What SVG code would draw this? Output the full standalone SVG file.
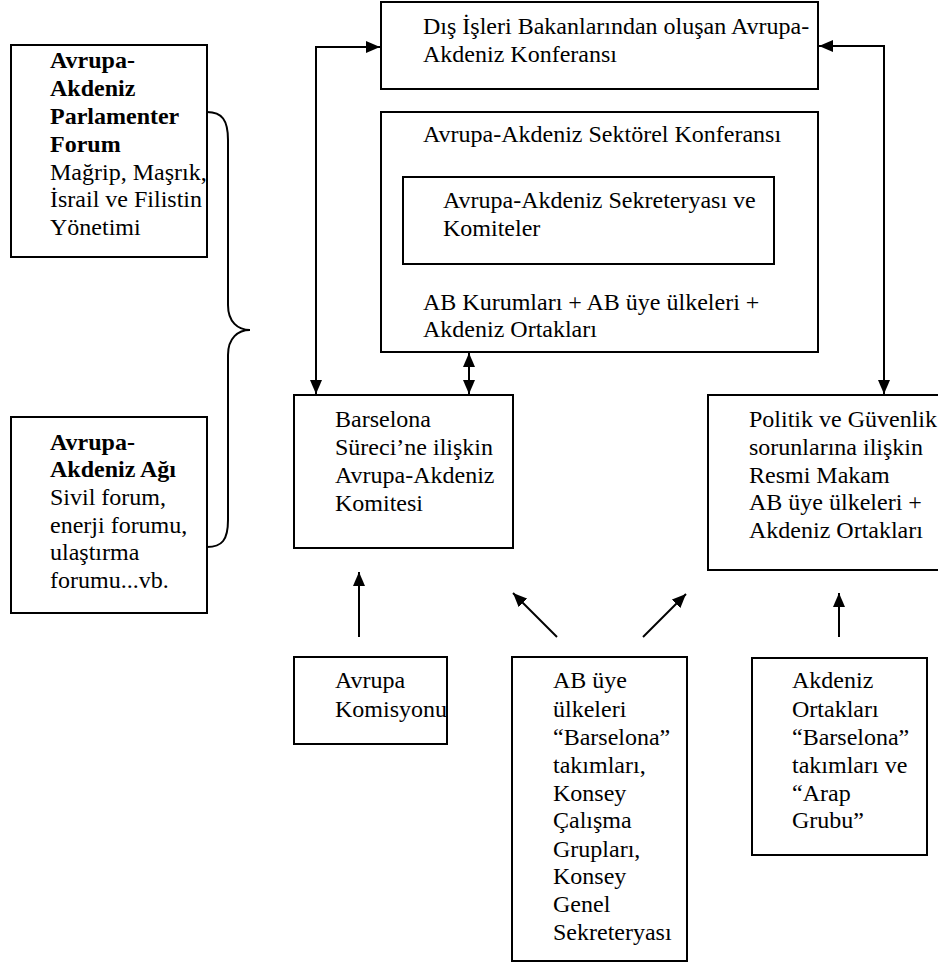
<svg xmlns="http://www.w3.org/2000/svg" width="938" height="965" viewBox="0 0 938 965">
<style>
.box{fill:#fff;stroke:#000;stroke-width:2}
.t{font-family:'Liberation Serif','Times New Roman',serif;font-size:24px;fill:#000}
.b{font-weight:bold}
.c{fill:none;stroke:#000;stroke-width:2}
</style>
<defs>
<marker id="ah" viewBox="0 0 14 12" refX="14" refY="6" markerWidth="14" markerHeight="12" markerUnits="userSpaceOnUse" orient="auto-start-reverse">
<path d="M0,0 L14,6 L0,12 z" fill="#000"/>
</marker>
</defs>
<rect width="938" height="965" fill="#fff"/>

<g id="connectors">
<polyline class="c" points="316,394 316,47 380,47" marker-start="url(#ah)" marker-end="url(#ah)"/>
<polyline class="c" points="884,394 884,46 819,46" marker-start="url(#ah)" marker-end="url(#ah)"/>
<line class="c" x1="469" y1="353" x2="469" y2="394" marker-start="url(#ah)" marker-end="url(#ah)"/>
<line class="c" x1="359" y1="637" x2="359" y2="572" marker-end="url(#ah)"/>
<line class="c" x1="557" y1="637" x2="513" y2="593" marker-end="url(#ah)"/>
<line class="c" x1="643" y1="637" x2="686" y2="594" marker-end="url(#ah)"/>
<line class="c" x1="839" y1="637" x2="839" y2="593" marker-end="url(#ah)"/>
<path class="c" d="M207,112 C222,112 228,120 228,140 L228,305 C228,322 238,330 250,330 C238,330 228,338 228,355 L228,520 C228,540 222,547 207,547"/>
</g>

<g id="n-forum">
<rect class="box" x="11" y="45" width="196" height="212"/>
<text class="t b" x="50" y="68">Avrupa-</text>
<text class="t b" x="50" y="96">Akdeniz</text>
<text class="t b" x="50" y="124">Parlamenter</text>
<text class="t b" x="50" y="152">Forum</text>
<text class="t" x="50" y="180">Mağrip, Maşrık,</text>
<text class="t" x="50" y="207">İsrail ve Filistin</text>
<text class="t" x="50" y="235">Yönetimi</text>
</g>

<g id="n-agi">
<rect class="box" x="11" y="417" width="196" height="196"/>
<text class="t b" x="50" y="450">Avrupa-</text>
<text class="t b" x="50" y="477">Akdeniz Ağı</text>
<text class="t" x="50" y="505">Sivil forum,</text>
<text class="t" x="50" y="533">enerji forumu,</text>
<text class="t" x="50" y="560">ulaştırma</text>
<text class="t" x="50" y="588">forumu...vb.</text>
</g>

<g id="n-dis">
<rect class="box" x="381" y="2" width="437" height="87"/>
<text class="t" x="423" y="34">Dış İşleri Bakanlarından oluşan Avrupa-</text>
<text class="t" x="423" y="62">Akdeniz Konferansı</text>
</g>

<g id="n-sektorel">
<rect class="box" x="381" y="112" width="437" height="240"/>
<text class="t" x="423" y="142">Avrupa-Akdeniz Sektörel Konferansı</text>
<text class="t" x="423" y="310">AB Kurumları + AB üye ülkeleri +</text>
<text class="t" x="423" y="337">Akdeniz Ortakları</text>
</g>

<g id="n-sekreterya">
<rect class="box" x="403" y="177" width="371" height="87"/>
<text class="t" x="443" y="208">Avrupa-Akdeniz Sekreteryası ve</text>
<text class="t" x="443" y="236">Komiteler</text>
</g>

<g id="n-barselona">
<rect class="box" x="294" y="395" width="219" height="153"/>
<text class="t" x="335" y="427">Barselona</text>
<text class="t" x="335" y="455">Süreci’ne ilişkin</text>
<text class="t" x="335" y="483">Avrupa-Akdeniz</text>
<text class="t" x="335" y="511">Komitesi</text>
</g>

<g id="n-politik">
<rect class="box" x="708" y="395" width="240" height="175"/>
<text class="t" x="749" y="427">Politik ve Güvenlik</text>
<text class="t" x="749" y="455">sorunlarına ilişkin</text>
<text class="t" x="749" y="483">Resmi Makam</text>
<text class="t" x="749" y="510">AB üye ülkeleri +</text>
<text class="t" x="749" y="538">Akdeniz Ortakları</text>
</g>

<g id="n-komisyon">
<rect class="box" x="294" y="657" width="153" height="87"/>
<text class="t" x="335" y="688">Avrupa</text>
<text class="t" x="335" y="717">Komisyonu</text>
</g>

<g id="n-abuye">
<rect class="box" x="512" y="657" width="175" height="304"/>
<text class="t" x="553" y="688">AB üye</text>
<text class="t" x="553" y="717">ülkeleri</text>
<text class="t" x="553" y="745">“Barselona”</text>
<text class="t" x="553" y="773">takımları,</text>
<text class="t" x="553" y="801">Konsey</text>
<text class="t" x="553" y="828">Çalışma</text>
<text class="t" x="553" y="857">Grupları,</text>
<text class="t" x="553" y="884">Konsey</text>
<text class="t" x="553" y="912">Genel</text>
<text class="t" x="553" y="940">Sekreteryası</text>
</g>

<g id="n-akdeniz">
<rect class="box" x="752" y="658" width="175" height="197"/>
<text class="t" x="792" y="688">Akdeniz</text>
<text class="t" x="792" y="717">Ortakları</text>
<text class="t" x="792" y="745">“Barselona”</text>
<text class="t" x="792" y="773">takımları ve</text>
<text class="t" x="792" y="801">“Arap</text>
<text class="t" x="792" y="828">Grubu”</text>
</g>
</svg>
